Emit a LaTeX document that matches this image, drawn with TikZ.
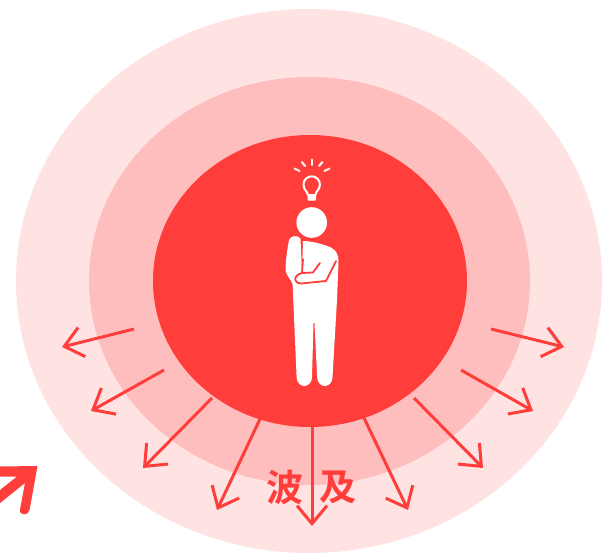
\documentclass[tikz,border=0pt]{standalone}
\usepackage{fontspec}
\newfontfamily\cjk{Noto Sans CJK JP}[BoldFont={* Bold}]
\usetikzlibrary{arrows.meta,shapes.geometric}
\definecolor{accent}{HTML}{FF3D3A}
\definecolor{ringmid}{HTML}{FFBEBE}
\definecolor{ringout}{HTML}{FFE2E2}
\tikzset{
  ring/.style={ellipse,inner sep=0pt,outer sep=0pt,draw=none},
  burst/.style={draw=accent,line width=3pt,-{Straight Barb[length=18pt,width=30pt,line width=3pt]}},
  ray/.style={draw=white,line width=2pt,line cap=round},
  crease/.style={draw=accent,line width=1.8pt,line cap=round,line join=round},
  waveword/.style={text=accent,font=\cjk\bfseries\fontsize{37}{37}\selectfont,inner sep=0pt}
}
\begin{document}
\begin{tikzpicture}[x=1pt,y=-1pt]
\useasboundingbox (0,0) rectangle (602,552);
\clip (0,0) rectangle (602,552);
\node[ring,fill=ringout,minimum width=586pt,minimum height=544pt] (outer) at (309,281) {};
\node[ring,fill=ringmid,minimum width=441pt,minimum height=408pt] (middle) at (309.5,281) {};
\node[ring,fill=accent,minimum width=314pt,minimum height=292pt] (inner) at (310,281) {};
% arrows
\coordinate (a1s) at (134,329); \coordinate (a1e) at (62,347);
\coordinate (a2s) at (164,370); \coordinate (a2e) at (91,411);
\coordinate (a3s) at (212,398); \coordinate (a3e) at (143,468);
\coordinate (a4s) at (260,419); \coordinate (a4e) at (217,510);
\coordinate (a5s) at (312,427); \coordinate (a5e) at (312,526);
\coordinate (a6s) at (364,418); \coordinate (a6e) at (408,510);
\coordinate (a7s) at (414,398); \coordinate (a7e) at (483,468);
\coordinate (a8s) at (461,370); \coordinate (a8e) at (533,411);
\coordinate (a9s) at (491,329); \coordinate (a9e) at (564,347);
\foreach \i in {1,...,9} \draw[burst] (a\i s) -- (a\i e);
% label
\node[waveword] (label) at (285,487) {波};
\node[waveword] (label2) at (338,487) {及};
% bulb
\draw[ray] (311.7,159.5) -- (311.7,165);
\draw[ray] (302,162) -- (305,166);
\draw[ray] (322.5,162) -- (319,166);
\draw[ray] (294.5,168.5) -- (299.5,171);
\draw[ray] (329.5,168.5) -- (324.5,171);
\draw[white,line width=2pt,line join=round] (308,195) .. controls (307,190.5) and (303.5,190) .. (303.5,184.5) arc[start angle=180,end angle=360,radius=8.2] .. controls (319.9,190) and (316,190.5) .. (315.5,195) -- cycle;
\fill[white,rounded corners=1pt] (307.5,195) rectangle (316,200.5);
% person
\fill[white] (311.7,222.5) circle[radius=15.3];
% raised arm
\fill[white] (289,240) .. controls (290,235.5) and (299,234.5) .. (300.5,239) -- (302,272) -- (299,284) -- (292.5,284) .. controls (291,279) and (285.5,276) .. (285.5,268) .. controls (286,258) and (287.5,248) .. (289,240) -- cycle;
% body and legs
\fill[white] (303,241) .. controls (312,241) and (322,244) .. (330,247) .. controls (336,250) and (338.5,254) .. (338.5,262)
  -- (337,300) -- (332.5,377) arc[start angle=0,end angle=180,x radius=7.7,y radius=9] -- (314.5,323) -- (313.5,323)
  -- (312,377) arc[start angle=0,end angle=180,x radius=7.7,y radius=9] -- (292.5,282) -- (302,272) -- cycle;
% arm creases
\draw[crease] (303,259) -- (302,273) -- (313,272.5) -- (320,263);
\draw[crease] (336,261) -- (326,281) -- (301,283.5) .. controls (296,283.5) and (294,279.5) .. (296,276.5) .. controls (297,275) and (299,274) .. (302,273);
% corner arrow
\fill[accent] (0,466.5) -- (37.5,466) -- (29.5,510) .. controls (28.5,516) and (19,516) .. (20,509.5)
  -- (25,483) -- (0,503) -- (0,490) -- (17,476.5) -- (0,476.5) -- cycle;
\end{tikzpicture}
\end{document}
